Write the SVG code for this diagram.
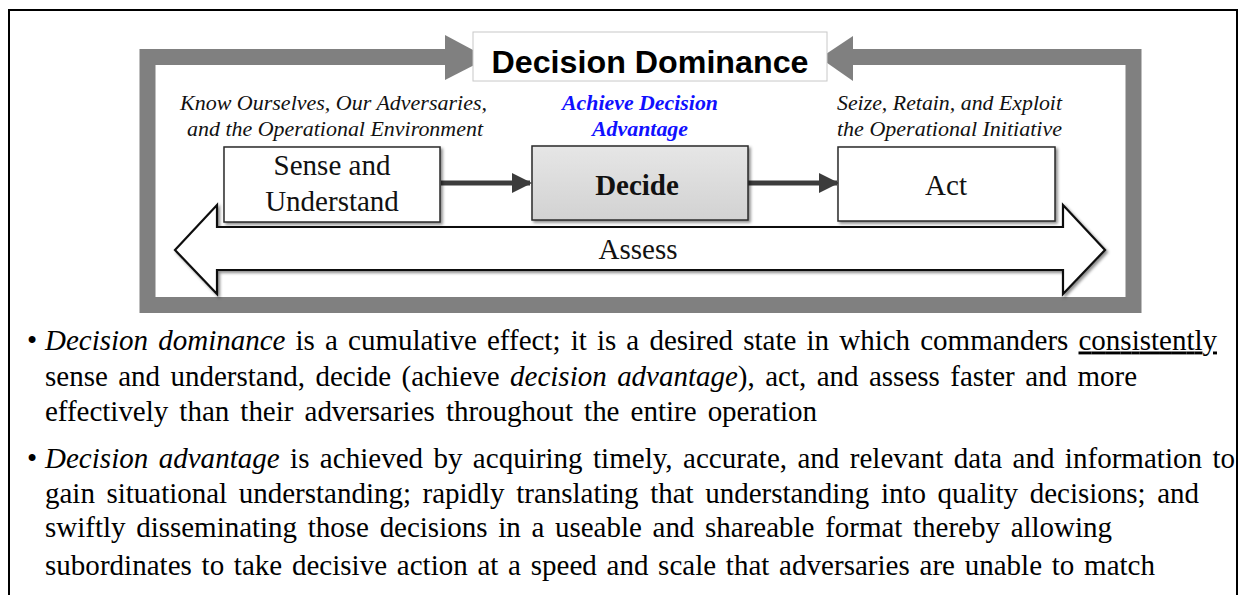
<svg xmlns="http://www.w3.org/2000/svg" width="1241" height="595" viewBox="0 0 1241 595">
<defs>
<style>
.it{font-family:"Liberation Serif","Times New Roman",Times,serif;font-style:italic;font-size:22px;fill:#111}
.bx{font-family:"Liberation Serif","Times New Roman",Times,serif;font-size:29px;fill:#111}
.body{font-family:"Liberation Serif","Times New Roman",Times,serif;font-size:29px;fill:#000}
.node{stroke:#2a2a2a;stroke-width:1.5;filter:url(#sh)}
.conn{stroke:#3c3c3c;stroke-width:5;fill:none}
</style>
<filter id="sh" x="-10%" y="-10%" width="125%" height="130%">
<feDropShadow dx="2" dy="2" stdDeviation="1.5" flood-color="#000" flood-opacity="0.45"/>
</filter>
<linearGradient id="gd" x1="0" y1="0" x2="0" y2="1">
<stop offset="0" stop-color="#e6e6e6"/>
<stop offset="1" stop-color="#d2d2d2"/>
</linearGradient>
<marker id="ah" viewBox="0 0 10 10" refX="9" refY="5" markerWidth="4" markerHeight="4" orient="auto" markerUnits="strokeWidth">
<path d="M0,0 L10,5 L0,10 z" fill="#3c3c3c"/>
</marker>
</defs>
<rect width="1241" height="595" fill="#fff"/>
<path d="M9,595 L9,10 L1237,10 L1237,595" fill="none" stroke="#000" stroke-width="2"/>

<g id="frame">
<path d="M446,57 L147.5,57 L147.5,305 L1133.5,305 L1133.5,57 L852,57" fill="none" stroke="#808080" stroke-width="16"/>
<polygon points="445,35 488,58 445,80" fill="#808080"/>
<polygon points="853,36 820,58 853,81" fill="#808080"/>
</g>

<g id="title">
<rect x="473" y="32" width="354" height="49" fill="#fff" stroke="#c8c8c8" stroke-width="1"/>
<text x="650" y="73" text-anchor="middle" font-family="'Liberation Sans',Arial,sans-serif" font-weight="bold" font-size="32" textLength="317" lengthAdjust="spacingAndGlyphs" fill="#000">Decision Dominance</text>
</g>

<g id="labels">
<text class="it" x="333.5" y="110" text-anchor="middle" textLength="307" lengthAdjust="spacingAndGlyphs">Know Ourselves, Our Adversaries,</text>
<text class="it" x="335" y="136" text-anchor="middle" textLength="296" lengthAdjust="spacingAndGlyphs">and the Operational Environment</text>
<text class="it" x="640" y="110" text-anchor="middle" font-weight="bold" style="fill:#1010ff" textLength="156" lengthAdjust="spacingAndGlyphs">Achieve Decision</text>
<text class="it" x="640" y="136" text-anchor="middle" font-weight="bold" style="fill:#1010ff" textLength="96" lengthAdjust="spacingAndGlyphs">Advantage</text>
<text class="it" x="949.5" y="110" text-anchor="middle" textLength="225" lengthAdjust="spacingAndGlyphs">Seize, Retain, and Exploit</text>
<text class="it" x="949.5" y="136" text-anchor="middle" textLength="225" lengthAdjust="spacingAndGlyphs">the Operational Initiative</text>
</g>

<g id="assess">
<polygon points="175,250 217,205 217,227 1063,227 1063,205 1105,250 1063,294 1063,270 217,270 217,294" fill="#fff" stroke="#111" stroke-width="2.2" filter="url(#sh)"/>
<text class="bx" x="638" y="259" text-anchor="middle" font-size="26">Assess</text>
</g>

<g id="connectors">
<line class="conn" x1="441" y1="183" x2="530" y2="183" marker-end="url(#ah)"/>
<line class="conn" x1="748" y1="183" x2="837" y2="183" marker-end="url(#ah)"/>
</g>

<g id="sense">
<rect class="node" x="224" y="147" width="216" height="75" fill="#fff"/>
<text class="bx" x="332" y="175" text-anchor="middle">Sense and</text>
<text class="bx" x="332" y="211" text-anchor="middle">Understand</text>
</g>

<g id="decide">
<rect class="node" x="532" y="146" width="216" height="74" fill="url(#gd)"/>
<text class="bx" x="637" y="195" text-anchor="middle" font-weight="bold" font-size="28">Decide</text>
</g>

<g id="act">
<rect class="node" x="838" y="147" width="217" height="74" fill="#fff"/>
<text class="bx" x="946" y="195" text-anchor="middle" font-size="28">Act</text>
</g>

<g id="text">
<text class="body" x="27" y="349.5" font-size="17">•</text>
<text class="body" x="45" y="349.5" word-spacing="2.9" textLength="1172" lengthAdjust="spacing"><tspan font-style="italic">Decision dominance</tspan> is a cumulative effect; it is a desired state in which commanders <tspan text-decoration="underline">consistently</tspan></text>
<text class="body" x="45" y="385.5" word-spacing="3.2" textLength="1092" lengthAdjust="spacing">sense and understand, decide (achieve <tspan font-style="italic">decision advantage</tspan>), act, and assess faster and more</text>
<text class="body" x="45" y="420.5" word-spacing="3.9" textLength="772" lengthAdjust="spacing">effectively than their adversaries throughout the entire operation</text>
<text class="body" x="27" y="467.5" font-size="17">•</text>
<text class="body" x="45" y="467.5" word-spacing="3.1" textLength="1190" lengthAdjust="spacing"><tspan font-style="italic">Decision advantage</tspan> is achieved by acquiring timely, accurate, and relevant data and information to</text>
<text class="body" x="45" y="503" word-spacing="4.4" textLength="1154" lengthAdjust="spacing">gain situational understanding; rapidly translating that understanding into quality decisions; and</text>
<text class="body" x="45" y="537" word-spacing="3.5" textLength="1067" lengthAdjust="spacing">swiftly disseminating those decisions in a useable and shareable format thereby allowing</text>
<text class="body" x="45" y="574.5" word-spacing="2.4" textLength="1110" lengthAdjust="spacing">subordinates to take decisive action at a speed and scale that adversaries are unable to match</text>
</g>
</svg>
